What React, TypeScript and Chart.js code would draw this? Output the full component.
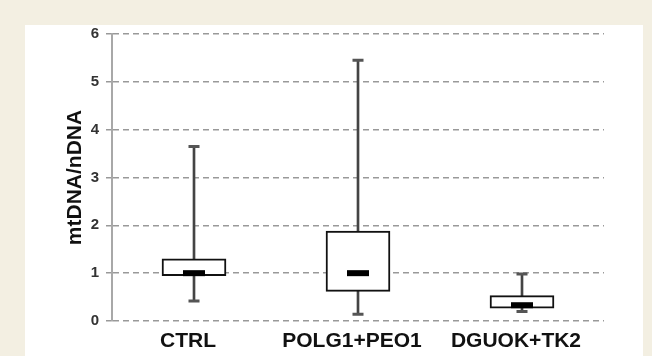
import React, { useEffect, useRef } from "react";
import { Chart, registerables } from "chart.js";

Chart.register(...registerables);

const categories = ["CTRL", "POLG1+PEO1", "DGUOK+TK2"];
const whiskerMin = [0.42, 0.14, 0.2];
const quartile1 = [0.95, 0.62, 0.27];
const medians = [1.0, 1.0, 0.33];
const quartile3 = [1.3, 1.88, 0.53];
const whiskerMax = [3.65, 5.45, 0.98];
const yTicks = [0, 1, 2, 3, 4, 5, 6];
const yTitle = "mtDNA/nDNA";

export default function App() {
  const ref = useRef<HTMLCanvasElement | null>(null);

  useEffect(() => {
    if (!ref.current) return;
    const font = "'Liberation Sans', Arial, Helvetica, sans-serif";
    const chart = new Chart(ref.current, {
      type: "bar",
      data: {
        labels: categories,
        datasets: [
          {
            type: "line",
            label: "median",
            data: medians,
            showLine: false,
            pointStyle: "line",
            pointRadius: 11,
            pointHoverRadius: 11,
            pointBorderWidth: 6,
            pointHoverBorderWidth: 6,
            borderColor: "#000000",
            backgroundColor: "#000000",
            order: 0,
          } as any,
          {
            type: "line",
            label: "max cap",
            data: whiskerMax,
            showLine: false,
            pointStyle: "line",
            pointRadius: 5.5,
            pointHoverRadius: 5.5,
            pointBorderWidth: 3,
            pointHoverBorderWidth: 3,
            borderColor: "#555555",
            backgroundColor: "#555555",
            order: 1,
          } as any,
          {
            type: "line",
            label: "min cap",
            data: whiskerMin,
            showLine: false,
            pointStyle: "line",
            pointRadius: 5.5,
            pointHoverRadius: 5.5,
            pointBorderWidth: 3,
            pointHoverBorderWidth: 3,
            borderColor: "#555555",
            backgroundColor: "#555555",
            order: 1,
          } as any,
          {
            type: "bar",
            label: "box",
            data: categories.map((_, i) => [quartile1[i], quartile3[i]]),
            backgroundColor: "#ffffff",
            borderColor: "#111111",
            borderWidth: 2,
            borderSkipped: false,
            barThickness: 64,
            grouped: false,
            order: 2,
          } as any,
          {
            type: "bar",
            label: "whisker",
            data: categories.map((_, i) => [whiskerMin[i], whiskerMax[i]]),
            backgroundColor: "#444444",
            borderWidth: 0,
            barThickness: 2,
            grouped: false,
            order: 3,
          } as any,
        ],
      },
      options: {
        responsive: false,
        animation: false,
        devicePixelRatio: 1,
        layout: { padding: { left: 33, right: 39, top: 0, bottom: 0 } },
        plugins: {
          legend: { display: false },
          tooltip: { enabled: false },
        },
        scales: {
          x: {
            grid: { display: false, drawTicks: false },
            border: { display: false },
            afterFit: (scale: any) => {
              scale.height = 36;
            },
            ticks: {
              padding: 8,
              labelOffset: -6,
              color: "#111111",
              font: { family: font, size: 21, weight: "bold" },
            },
          },
          y: {
            min: 0,
            max: 6,
            afterBuildTicks: (scale: any) => {
              scale.ticks = yTicks.map((v) => ({ value: v }));
            },
            afterFit: (scale: any) => {
              scale.width = 54;
            },
            grid: {
              color: "#999999",
              lineWidth: 1.5,
              tickLength: 6,
              tickColor: "#999999",
              tickBorderDash: [],
            },
            border: {
              display: true,
              color: "#a8a8a8",
              width: 2,
              dash: [6, 4],
            } as any,
            ticks: {
              padding: 7,
              color: "#333333",
              font: { family: font, size: 15, weight: "bold" },
            },
            title: {
              display: true,
              text: yTitle,
              color: "#111111",
              font: { family: font, size: 21, weight: "bold" },
              padding: { top: 5, bottom: 4 },
            },
          },
        },
      },
    });
    return () => chart.destroy();
  }, []);

  return (
    <div
      style={{
        position: "fixed",
        left: 0,
        top: 0,
        width: 652,
        height: 356,
        background: "#f3efe2",
        overflow: "hidden",
      }}
    >
      <div
        style={{
          position: "absolute",
          left: 25,
          top: 25,
          width: 618,
          height: 331,
          background: "#ffffff",
        }}
      />
      <canvas
        ref={ref}
        width={618}
        height={340}
        style={{ display: "block", position: "absolute", left: 25, top: 17 }}
      />
    </div>
  );
}
